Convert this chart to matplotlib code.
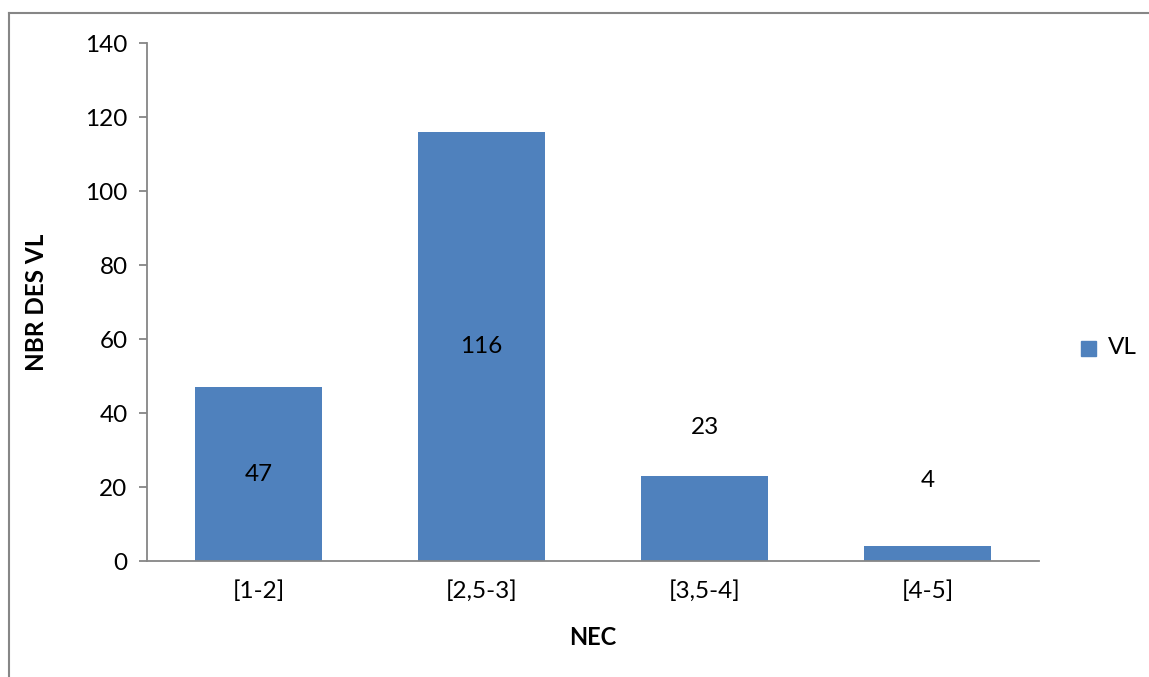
import numpy as np
import matplotlib.pyplot as plt
from matplotlib.lines import Line2D
from matplotlib.patches import Rectangle

categories = ['[1-2]', '[2,5-3]', '[3,5-4]', '[4-5]']
vl_values = [47, 116, 23, 4]
y_ticks = [0, 20, 40, 60, 80, 100, 120, 140]

plt.rcParams['font.family'] = ['Lato', 'DejaVu Sans']
bar_color = '#4F81BD'
grey = '#868686'

fig = plt.figure(figsize=(11.49, 6.77), dpi=100)
ax = fig.add_axes([147 / 1149, 1 - 561 / 677, 892 / 1149, 518 / 677])

x = np.arange(len(categories))
bars = ax.bar(x, vl_values, width=0.57, color=bar_color, label='VL')

ax.set_xlim(-0.5, len(categories) - 0.5)
ax.set_ylim(0, 140)
ax.set_yticks(y_ticks)
ax.set_xticks(x)
ax.set_xticklabels(categories)

for side in ['top', 'right']:
    ax.spines[side].set_visible(False)
for side in ['left', 'bottom']:
    ax.spines[side].set_color(grey)
    ax.spines[side].set_linewidth(1.3)
ax.tick_params(axis='y', direction='out', length=6, color=grey, width=1.3,
               labelsize=17.5, pad=8)
ax.tick_params(axis='x', length=0, labelsize=17.5, pad=14)

ax.set_xlabel('NEC', fontsize=17, fontweight='bold')
ax.set_ylabel('NBR DES VL', fontsize=17.5, fontweight='bold')
ax.xaxis.set_label_coords(0.5, -0.126)
ax.yaxis.set_label_coords(-0.111, 0.5)

# data labels: inside the tall bars, above the short ones
offsets = [None, None, 48, 66]
for xi, v, off in zip(x, vl_values, offsets):
    if off is None:
        ax.text(xi, v / 2, str(v), ha='center', va='center', fontsize=17.5)
    else:
        ax.annotate(str(v), (xi, v), xytext=(0, off), textcoords='offset pixels',
                    ha='center', va='center', fontsize=17.5)

# legend at the right
fig.patches.append(Rectangle((1081 / 1149, 1 - 356 / 677), 15 / 1149, 15 / 677,
                             transform=fig.transFigure, color=bar_color))
fig.text(1108 / 1149, 1 - 348 / 677, 'VL', fontsize=17.5, va='center', ha='left')

# chart frame
fig.lines.append(Line2D([9 / 1149, 9 / 1149], [0, 1 - 13 / 677],
                        transform=fig.transFigure, color=grey, lw=1.5))
fig.lines.append(Line2D([9 / 1149, 1], [1 - 13 / 677, 1 - 13 / 677],
                        transform=fig.transFigure, color=grey, lw=1.5))

fig.savefig('out.png', dpi=100)
